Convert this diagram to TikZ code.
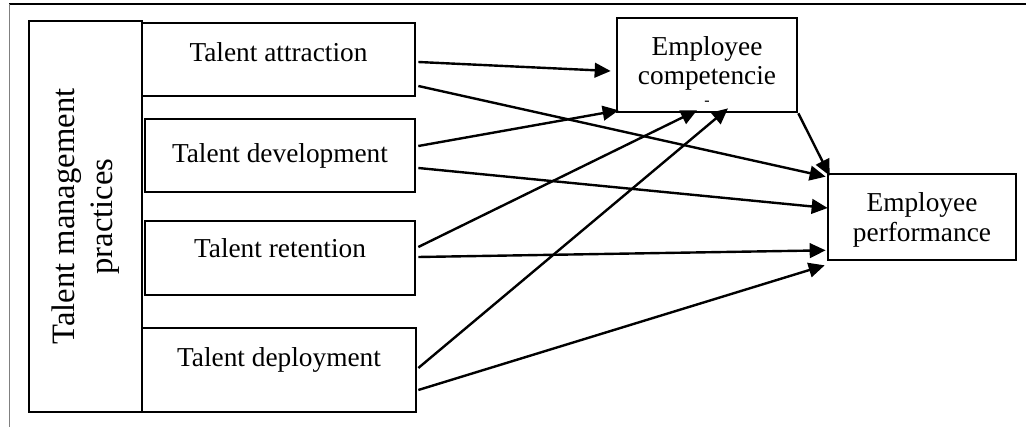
\documentclass[tikz,border=0pt]{standalone}
\usepackage{fontspec}
\setmainfont{Liberation Serif}
\usetikzlibrary{arrows.meta,calc}
\begin{document}
\begin{tikzpicture}[x=0.75pt,y=-0.75pt]
\tikzstyle{boite} = [draw,line width=2pt,inner sep=0pt,align=center,font=\fontsize{20.5}{22}\selectfont] %cases
\tikzstyle{fleche} = [line width=1.8pt,-{Triangle[length=12pt,width=11pt]}] %flèches

\useasboundingbox (0,0) rectangle (1026,427);

%cadre
\draw[line width=1.2pt] (9,4)--(1026,4);
\draw[line width=0.6pt,gray] (9,4)--(9,427);

%pratiques
\node[boite,rotate=90,minimum width=293.25pt,minimum height=84.75pt,font=\fontsize{24.5}{28}\selectfont] (tmp) at (85.5,216.5) {Talent management\\practices};
\node[boite,minimum width=204.75pt,minimum height=54.75pt,text depth=11pt] (attr) at (278.5,59.5) {Talent attraction};
\node[boite,minimum width=202.5pt,minimum height=54.75pt] (dev) at (280,155.5) {Talent development};
\node[boite,minimum width=202.5pt,minimum height=55.5pt,text depth=15pt] (ret) at (280,258) {Talent retention};
\node[boite,minimum width=205.5pt,minimum height=63pt,text depth=19pt] (dep) at (279,370) {Talent deployment};

%résultats
\node[boite,minimum width=135pt,minimum height=70.5pt,text height=61pt] (comp) at (707,65) {Employee\\competencie\\[-6.5pt]{\fontsize{12}{12}\selectfont -}};
\node[boite,minimum width=141pt,minimum height=64.5pt,text height=40.5pt] (perf) at (922,217) {Employee\\performance};

%flèches vers les compétences
\draw[fleche] ($(attr.east)+(2,2.5)$) -- ($(comp.west)+(-5,6)$);
\draw[fleche] ($(dev.east)+(2,-9.5)$) -- ($(comp.south west)+(3,-3)$);
\draw[fleche] ($(ret.east)+(2,-11)$) -- ($(comp.south)+(-10,-3)$);
\draw[fleche] ($(dep.east)+(1,-2)$) -- ($(comp.south)+(21,-5)$);

%flèches vers la performance
\draw[fleche] ($(attr.east)+(2,26.5)$) -- ($(perf.north west)+(-1,4)$);
\draw[fleche] ($(dev.east)+(2,12.5)$) -- ($(perf.west)+(1,-9)$);
\draw[fleche] ($(ret.east)+(2,-1)$) -- ($(perf.south west)+(-1,-11)$);
\draw[fleche] ($(dep.east)+(1,20)$) -- ($(perf.south west)+(-2,4)$);
\draw[fleche] (comp.south east) -- ($(perf.north west)+(3,3)$);
\end{tikzpicture}
\end{document}
